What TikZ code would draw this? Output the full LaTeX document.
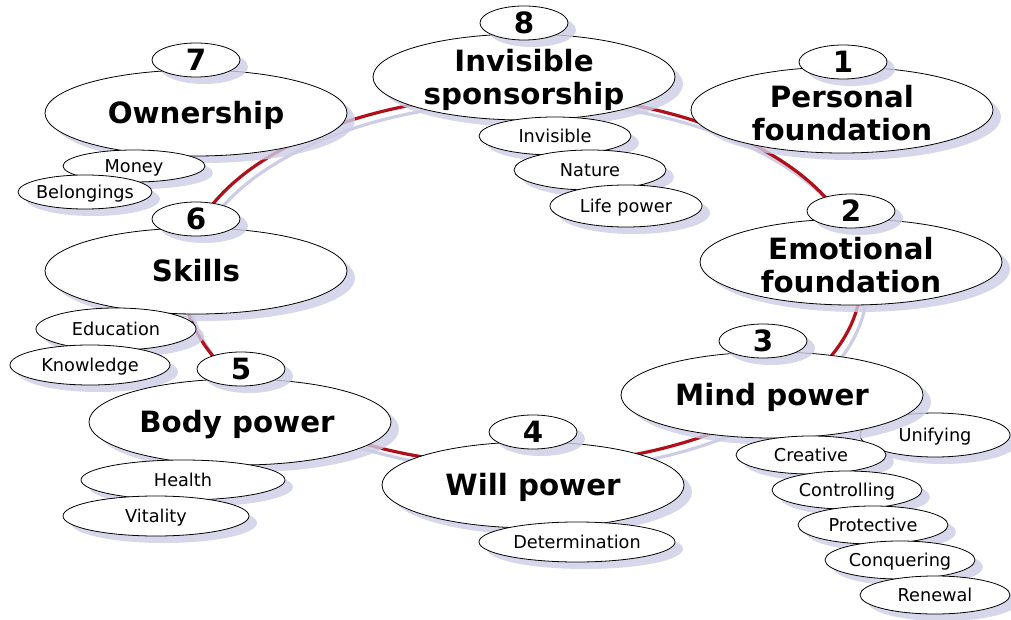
\documentclass[tikz,border=0pt]{standalone}
\usepackage{fontspec}
\setmainfont{DejaVu Sans}
\usetikzlibrary{shapes.geometric,shadows}
\definecolor{ringred}{HTML}{B0101A}
\definecolor{shcol}{HTML}{CDCDE6}
\begin{document}
\begin{tikzpicture}[x=1pt,y=-1pt,
  bub/.style={ellipse, draw=black, line width=0.8pt, fill=white, inner sep=0pt,
    drop shadow={shadow xshift=8pt, shadow yshift=-7pt, fill=shcol, opacity=0.8}},
  num/.style={bub, minimum width=88pt, minimum height=34pt},
  mainb/.style={bub, minimum width=302pt, minimum height=86pt},
  subb/.style={bub, minimum height=40pt},
  big/.style={font=\bfseries\fontsize{29.3}{33}\selectfont, inner sep=0pt, text height=21.5pt, text depth=0pt},
  bigtwo/.style={font=\bfseries\fontsize{29.3}{33}\selectfont, align=center, inner sep=0pt, yshift=-3pt},
  small/.style={font=\fontsize{17.7}{20}\selectfont, inner sep=0pt, text height=13pt, text depth=0pt},
  ring/.style={ringred, line width=3.2pt},
  ringsh/.style={shcol, line width=3.2pt}
]
\useasboundingbox (0,0) rectangle (1011,620);
% ring
\draw[ringsh] (528,287) ellipse [x radius=339, y radius=185];
\draw[ring] (522,280) ellipse [x radius=339, y radius=185];

% 7 Ownership
\node[mainb] (m7) at (196,113) {};
\node[big] (m7t) at (m7) {Ownership};
\node[num] (n7) at (196,60) {};
\node[big] (n7t) at (n7) {7};
\node[subb, minimum width=142pt, minimum height=32pt] (s7a) at (134,166) {};
\node[small] at (s7a) {Money};
\node[subb, minimum width=134pt, minimum height=34pt] (s7b) at (85,192) {};
\node[small] at (s7b) {Belongings};

% 6 Skills
\node[mainb] (m6) at (196,271) {};
\node[big] (m6t) at (m6) {Skills};
\node[num] (n6) at (196,219) {};
\node[big] (n6t) at (n6) {6};
\node[subb, minimum width=160pt, minimum height=42pt] (s6a) at (116,329) {};
\node[small] at (s6a) {Education};
\node[subb, minimum width=160pt] (s6b) at (90,365) {};
\node[small] at (s6b) {Knowledge};

% 5 Body power
\node[mainb] (m5) at (240,422) {};
\node[big] (m5t) at ([xshift=-3pt]m5.center) {Body power};
\node[num] (n5) at (241,369) {};
\node[big] (n5t) at (n5) {5};
\node[subb, minimum width=204pt] (s5a) at (183,480) {};
\node[small] at (s5a) {Health};
\node[subb, minimum width=186pt] (s5b) at (156,516) {};
\node[small] at (s5b) {Vitality};

% 4 Will power
\node[mainb] (m4) at (533,485) {};
\node[big] (m4t) at (m4) {Will power};
\node[num] (n4) at (533,432) {};
\node[big] (n4t) at (n4) {4};
\node[subb, minimum width=196pt] (s4a) at (577,542) {};
\node[small] at (s4a) {Determination};

% 3 Mind power
\node[subb, minimum width=150pt, minimum height=44pt] (s3u) at (935,435) {};
\node[small] at (s3u) {Unifying};
\node[mainb] (m3) at (772,395) {};
\node[big] (m3t) at (m3) {Mind power};
\node[num] (n3) at (763,341) {};
\node[big] (n3t) at (n3) {3};
\node[subb, minimum width=150pt, minimum height=38pt] (s3a) at (811,455) {};
\node[small] at (s3a) {Creative};
\node[subb, minimum width=150pt, minimum height=38pt] (s3b) at (847,490) {};
\node[small] at (s3b) {Controlling};
\node[subb, minimum width=150pt, minimum height=38pt] (s3c) at (873,525) {};
\node[small] at (s3c) {Protective};
\node[subb, minimum width=150pt, minimum height=38pt] (s3d) at (900,560) {};
\node[small] at (s3d) {Conquering};
\node[subb, minimum width=150pt, minimum height=38pt] (s3e) at (935,595) {};
\node[small] at (s3e) {Renewal};

% 2 Emotional foundation
\node[mainb] (m2) at (851,262) {};
\node[bigtwo] (m2t) at (m2) {Emotional\\foundation};
\node[num] (n2) at (851,211) {};
\node[big] (n2t) at (n2) {2};

% 1 Personal foundation
\node[mainb] (m1) at (842,110) {};
\node[bigtwo] (m1t) at (m1) {Personal\\foundation};
\node[num] (n1) at (843,62) {};
\node[big] (n1t) at (n1) {1};

% 8 Invisible sponsorship
\node[mainb] (m8) at (524,77) {};
\node[bigtwo] (m8t) at (m8) {Invisible\\sponsorship};
\node[num] (n8) at (524,23) {};
\node[big] (n8t) at (n8) {8};
\node[subb, minimum width=152pt, minimum height=38pt] (s8a) at (555,136) {};
\node[small] at (s8a) {Invisible};
\node[subb, minimum width=152pt] (s8b) at (590,170) {};
\node[small] at (s8b) {Nature};
\node[subb, minimum width=152pt, minimum height=42pt] (s8c) at (626,206) {};
\node[small] at (s8c) {Life power};
\end{tikzpicture}
\end{document}
